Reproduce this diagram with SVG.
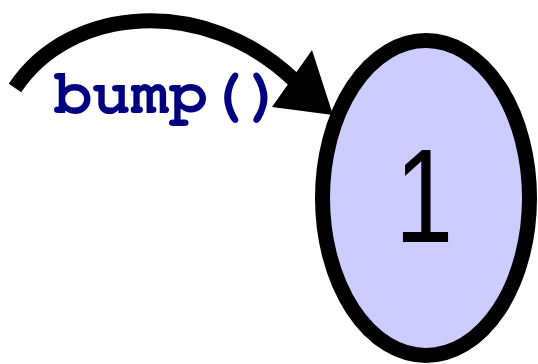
<svg xmlns="http://www.w3.org/2000/svg" width="538" height="364" viewBox="0 0 538 364">
<style>
.node{fill:#ccccff;stroke:#000;stroke-width:15}
.num{font-family:"Liberation Sans",Arimo,Arial,sans-serif;font-size:134px;fill:#000}
.edge{fill:none;stroke:#000;stroke-width:15}
.lbl{font-family:"Nimbus Mono PS","Nimbus Mono L",FreeMono,Courier,"Courier New","Liberation Mono",Cousine,monospace;font-weight:bold;font-size:64px;fill:#000080}
</style>
<rect width="538" height="364" fill="#fff"/>
<g id="connectors">
<path class="edge" d="M15,88 C70,5 205,-5 294,80"/>
<polygon points="333,115 312,50 272,107" fill="#000"/>
<text class="lbl" x="54" y="113" textLength="230" lengthAdjust="spacingAndGlyphs">bump()</text>
</g>
<g id="node1">
<ellipse class="node" cx="426" cy="198" rx="103.5" ry="157.5"/>
<text class="num" x="424" y="242" text-anchor="middle" transform="translate(424 0) scale(0.78 1) translate(-424 0)">1</text>
</g>
</svg>
